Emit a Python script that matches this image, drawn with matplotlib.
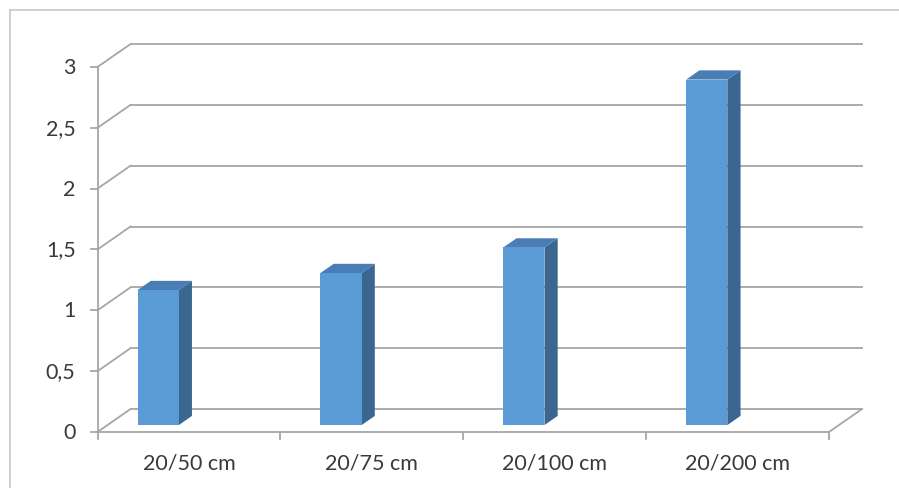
import matplotlib.pyplot as plt
from matplotlib.patches import Polygon
from matplotlib.lines import Line2D

# dados do gráfico
categorias = ["20/50 cm", "20/75 cm", "20/100 cm", "20/200 cm"]
valores = [1.11, 1.25, 1.46, 2.84]
ticks_y = [0, 0.5, 1, 1.5, 2, 2.5, 3]
rotulos_y = ["0", "0,5", "1", "1,5", "2", "2,5", "3"]

plt.rcParams['font.family'] = ['Lato', 'DejaVu Sans']

# deslocamento da profundidade (efeito 3D), em unidades dos eixos
DX = 33 / 182.6
DY = 23 / 121.7
cinza = "#a6a6a6"
texto = "#3a3a3a"

fig = plt.figure(figsize=(8.99, 4.89), dpi=100)
ax = fig.add_axes([97.5 / 899, 1 - 433 / 489, (862 - 97.5) / 899, (433 - 45) / 489])
ax.set_xlim(0, 4 + DX)
ax.set_ylim(0, 3 + DY)
ax.axis("off")

# borda da área do gráfico (apenas topo e esquerda visíveis)
fig.add_artist(Line2D([10 / 899, 10 / 899], [0, 1 - 11 / 489], transform=fig.transFigure, color="#c8c8c8", lw=1.2))
fig.add_artist(Line2D([10 / 899, 1], [1 - 11 / 489, 1 - 11 / 489], transform=fig.transFigure, color="#c8c8c8", lw=1.2))

# linhas de grade: parede esquerda (diagonais) e parede do fundo
for v, rot in zip(ticks_y, rotulos_y):
    ax.plot([0, DX], [v, v + DY], color=cinza, lw=1.3, clip_on=False)
    ax.plot([DX, 4 + DX], [v + DY, v + DY], color=cinza, lw=1.3, clip_on=False)
    ax.plot([-0.038, 0], [v, v], color=cinza, lw=1.3, clip_on=False)
    ax.text(-0.12, v, rot, ha="right", va="center", fontsize=15.5, color=texto)

# eixo vertical e piso
ax.plot([0, 0], [0, 3], color=cinza, lw=1.3, clip_on=False)
ax.plot([0, 4], [0, 0], color=cinza, lw=1.3, clip_on=False)
ax.plot([4, 4 + DX], [0, DY], color=cinza, lw=1.3, clip_on=False)
for i in range(5):
    ax.plot([i, i], [0, -0.058], color=cinza, lw=1.3, clip_on=False)

# barras 3D
W = 0.225
z0, z1 = 0.3, 0.7
for i, (cat, v) in enumerate(zip(categorias, valores)):
    x0 = i + 0.165
    fx = x0 + z0 * DX
    fy = z0 * DY
    frente = [(fx, fy), (fx + W, fy), (fx + W, fy + v), (fx, fy + v)]
    lado = [(fx + W, fy), (x0 + W + z1 * DX, z1 * DY),
            (x0 + W + z1 * DX, v + z1 * DY), (fx + W, fy + v)]
    topo = [(fx, fy + v), (fx + W, fy + v),
            (x0 + W + z1 * DX, v + z1 * DY), (x0 + z1 * DX, v + z1 * DY)]
    ax.add_patch(Polygon(lado, closed=True, facecolor="#3a6790", edgecolor="none", zorder=3))
    ax.add_patch(Polygon(topo, closed=True, facecolor="#4a7db5", edgecolor="none", zorder=3))
    ax.add_patch(Polygon(frente, closed=True, facecolor="#5b9bd5", edgecolor="none", zorder=4))
    ax.text(i + 0.5, -0.247, cat, ha="center", va="center", fontsize=15.5, color=texto)

fig.savefig("out.png", dpi=100)
